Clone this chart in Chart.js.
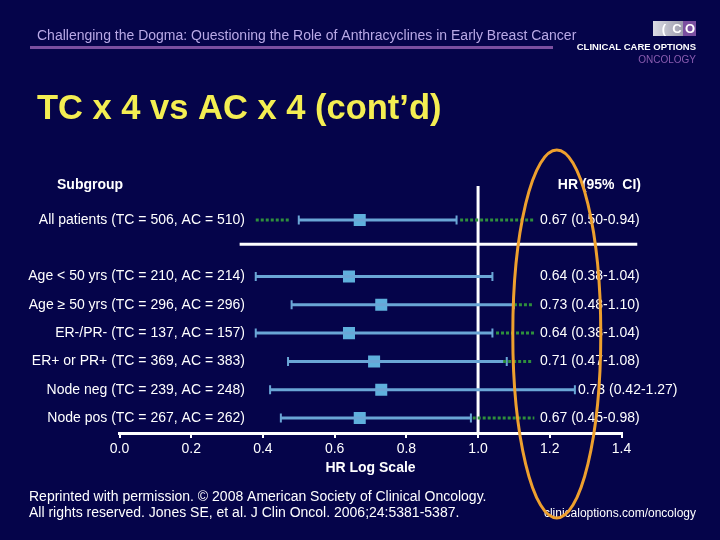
<!DOCTYPE html>
<html>
<head>
<meta charset="utf-8">
<script src="https://cdn.jsdelivr.net/npm/chart.js@4.4.1/dist/chart.umd.min.js"></script>
<style>
  html, body { margin: 0; padding: 0; background: #05044a; }
  #wrap { width: 720px; height: 540px; position: relative; }
</style>
</head>
<body>
<div id="wrap"><canvas id="forest"></canvas></div>
<script>
// subgroups, top to bottom (row position 1 is the gap under "All patients")
const subgroups = [
  'All patients (TC = 506, AC = 510)',
  'Age < 50 yrs (TC = 210, AC = 214)',
  'Age \u2265 50 yrs (TC = 296, AC = 296)',
  'ER-/PR- (TC = 137, AC = 157)',
  'ER+ or PR+ (TC = 369, AC = 383)',
  'Node neg (TC = 239, AC = 248)',
  'Node pos (TC = 267, AC = 262)'
];
const rowPos = [0, 2, 3, 4, 5, 6, 7];
const hr = [0.67, 0.64, 0.73, 0.64, 0.71, 0.73, 0.67];
const ciLow = [0.50, 0.38, 0.48, 0.38, 0.47, 0.42, 0.45];
const ciHigh = [0.94, 1.04, 1.10, 1.04, 1.08, 1.27, 0.98];
const hrLabels = [
  '0.67 (0.50-0.94)', '0.64 (0.38-1.04)', '0.73 (0.48-1.10)', '0.64 (0.38-1.04)',
  '0.71 (0.47-1.08)', '0.73 (0.42-1.27)', '0.67 (0.45-0.98)'
];

// green dotted leader lines (row position, from, to)
const greenRow = [0, 0, 3, 4, 5, 7];
const greenFrom = [0.38, 0.95, 1.10, 1.05, 1.07, 0.985];
const greenTo = [0.475, 1.157, 1.152, 1.157, 1.149, 1.157];

const xTicks = [0, 0.2, 0.4, 0.6, 0.8, 1.0, 1.2, 1.4];
const xTickLabels = ['0.0', '0.2', '0.4', '0.6', '0.8', '1.0', '1.2', '1.4'];

const blue = '#6aa6d6';
const green = '#2f8f3c';
const font = '"Liberation Sans", Arial, sans-serif';

const datasets = [];

greenRow.forEach((r, i) => {
  datasets.push({
    type: 'line',
    data: [{x: greenFrom[i], y: r}, {x: greenTo[i], y: r}],
    borderColor: green,
    borderWidth: 3,
    borderDash: [3, 2],
    pointRadius: 0
  });
});

rowPos.forEach((r, i) => {
  datasets.push({
    type: 'line',
    data: [{x: ciLow[i], y: r}, {x: ciHigh[i], y: r}],
    borderColor: blue,
    borderWidth: 3,
    pointStyle: 'line',
    pointRotation: 90,
    pointRadius: 4.5,
    pointBorderWidth: 2,
    pointBorderColor: blue
  });
});

datasets.push({
  type: 'scatter',
  data: hr.map((v, i) => ({x: v, y: rowPos[i]})),
  pointStyle: 'rect',
  pointRadius: 8.5,
  backgroundColor: '#5fb0dc',
  borderWidth: 0
});

const decor = {
  id: 'decor',
  beforeDraw(chart) {
    const ctx = chart.ctx;
    ctx.save();
    ctx.fillStyle = '#05044a';
    ctx.fillRect(0, 0, chart.width, chart.height);
    ctx.restore();
  },
  beforeDatasetsDraw(chart) {
    const ctx = chart.ctx;
    const xs = chart.scales.x, ys = chart.scales.y;
    const area = chart.chartArea;
    ctx.save();
    ctx.strokeStyle = '#ffffff';
    ctx.lineWidth = 3;
    ctx.beginPath();
    ctx.moveTo(xs.getPixelForValue(1), area.top);
    ctx.lineTo(xs.getPixelForValue(1), area.bottom);
    ctx.stroke();
    const sy = ys.getPixelForValue(0.86);
    ctx.beginPath();
    ctx.moveTo(xs.getPixelForValue(0.335), sy);
    ctx.lineTo(xs.getPixelForValue(1.444), sy);
    ctx.stroke();
    ctx.restore();
  },
  afterDraw(chart) {
    const ctx = chart.ctx;
    const xs = chart.scales.x, ys = chart.scales.y;
    ctx.save();

    // header
    ctx.fillStyle = '#b9a9e6';
    ctx.font = '14px ' + font;
    ctx.textBaseline = 'middle';
    ctx.textAlign = 'left';
    ctx.fillText('Challenging the Dogma: Questioning the Role of Anthracyclines in Early Breast Cancer', 37, 36);
    ctx.fillStyle = '#7b4fa0';
    ctx.fillRect(30, 46, 523, 3);

    // logo
    let g = ctx.createLinearGradient(653, 0, 683, 0);
    g.addColorStop(0, '#dcdce4');
    g.addColorStop(1, '#9c9cac');
    ctx.fillStyle = g;
    ctx.fillRect(653, 21, 30, 15);
    ctx.fillStyle = '#7b4fa0';
    ctx.fillRect(683, 21, 13, 15);
    ctx.font = 'bold 13px ' + font;
    ctx.textAlign = 'center';
    ctx.fillStyle = '#ffffff';
    ctx.fillText('(', 664, 29);
    ctx.fillText('C', 677, 29);
    ctx.fillText('O', 690, 29);
    ctx.textAlign = 'right';
    ctx.font = 'bold 9.5px ' + font;
    ctx.fillText('CLINICAL CARE OPTIONS', 696, 47);
    ctx.fillStyle = '#8a5cb0';
    ctx.font = '10px ' + font;
    ctx.fillText('ONCOLOGY', 696, 60);

    // slide title
    ctx.textAlign = 'left';
    ctx.fillStyle = '#f4ee52';
    ctx.font = 'bold 34.5px ' + font;
    ctx.fillText('TC x 4 vs AC x 4 (cont\u2019d)', 37, 109);

    // column heads
    ctx.fillStyle = '#ffffff';
    ctx.font = 'bold 14px ' + font;
    ctx.fillText('Subgroup', 57, 185);
    ctx.textAlign = 'right';
    ctx.fillText('HR (95%  CI)', 641, 185);

    // row labels and HR text
    ctx.font = '14px ' + font;
    subgroups.forEach((s, i) => {
      const y = ys.getPixelForValue(rowPos[i]);
      ctx.textAlign = 'right';
      ctx.fillText(s, 245, y);
      ctx.textAlign = 'left';
      const x = Math.max(540, xs.getPixelForValue(ciHigh[i]) + 3);
      ctx.fillText(hrLabels[i], x, y);
    });

    // footer
    ctx.textAlign = 'left';
    ctx.font = '14px ' + font;
    ctx.fillText('Reprinted with permission. \u00a9 2008 American Society of Clinical Oncology.', 29, 497);
    ctx.fillText('All rights reserved. Jones SE, et al. J Clin Oncol. 2006;24:5381-5387.', 29, 513);
    ctx.textAlign = 'right';
    ctx.font = '12px ' + font;
    ctx.fillText('clinicaloptions.com/oncology', 696, 514);

    // orange highlight around HR = 1.2
    const cx = xs.getPixelForValue(1.2) + 7;
    ctx.strokeStyle = '#eea02e';
    ctx.lineWidth = 3;
    ctx.beginPath();
    ctx.ellipse(cx, 334, 44, 184, 0, 0, Math.PI * 2);
    ctx.stroke();

    ctx.restore();
  }
};

new Chart(document.getElementById('forest'), {
  data: { datasets: datasets },
  plugins: [decor],
  options: {
    responsive: true,
    maintainAspectRatio: false,
    animation: false,
    layout: { padding: { left: 119.5, right: 98.5, top: 186, bottom: 59 } },
    plugins: { legend: { display: false }, tooltip: { enabled: false } },
    scales: {
      x: {
        type: 'linear',
        min: 0,
        max: 1.4,
        afterFit: (scale) => { scale.height = 48; },
        afterBuildTicks: (scale) => { scale.ticks = xTicks.map(v => ({value: v})); },
        border: { display: true, color: '#ffffff', width: 3 },
        grid: { drawOnChartArea: false, drawTicks: true, tickLength: 5, color: '#ffffff', lineWidth: 2 },
        ticks: {
          color: '#ffffff',
          font: { family: font, size: 14 },
          padding: 3,
          maxRotation: 0,
          callback: (v, i) => xTickLabels[i]
        },
        title: {
          display: true,
          text: 'HR Log Scale',
          color: '#ffffff',
          font: { family: font, size: 14, weight: 'bold' },
          padding: { top: 0, bottom: 4 }
        }
      },
      y: {
        type: 'linear',
        display: false,
        reverse: true,
        min: -1.2,
        max: 7.53
      }
    }
  }
});
</script>
</body>
</html>
